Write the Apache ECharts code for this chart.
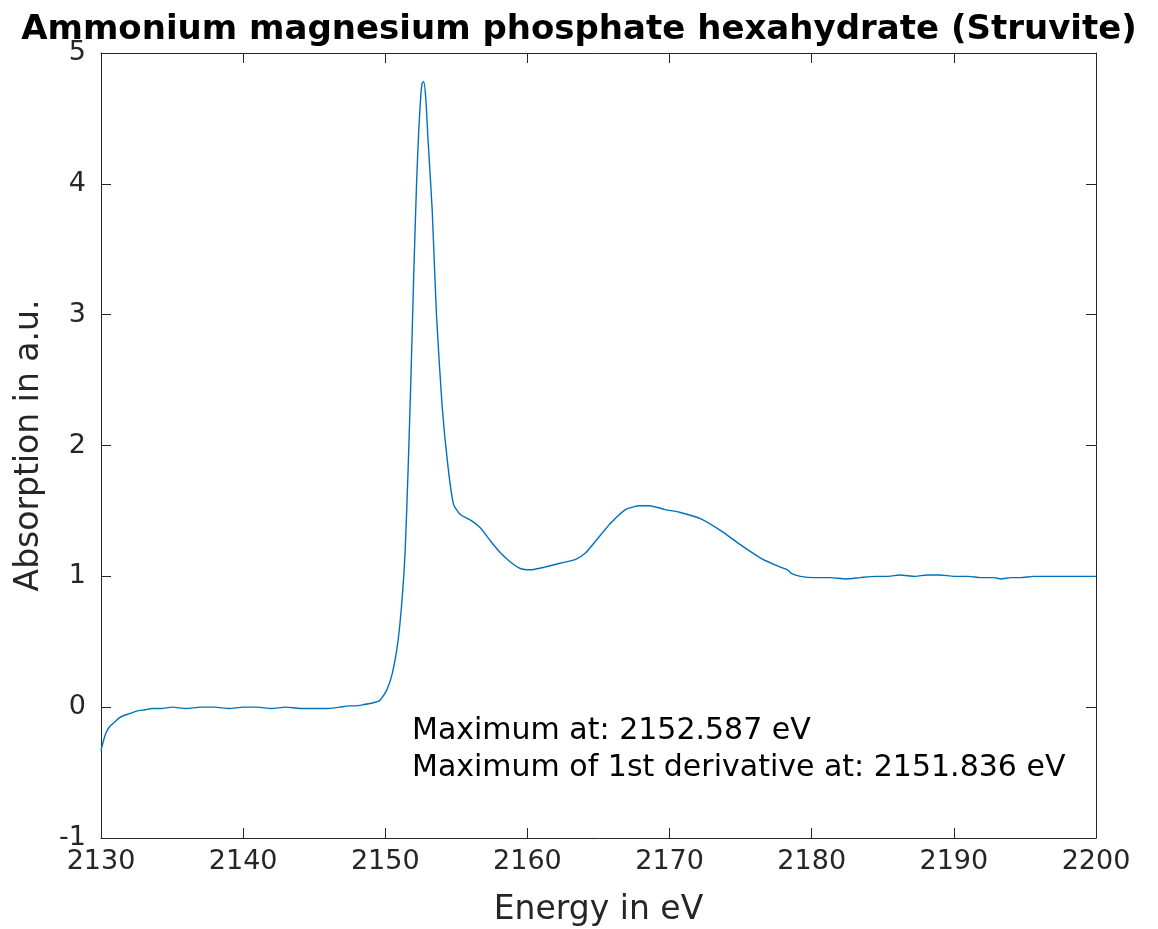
<!DOCTYPE html>
<html>
<head>
<meta charset="utf-8">
<script src="https://cdn.jsdelivr.net/npm/echarts@6/dist/echarts.min.js"></script>
<style>
  html, body { margin: 0; padding: 0; background: #fff; }
  #chart { width: 1158px; height: 929px; }
</style>
</head>
<body>
<div id="chart"></div>
<script>
// energies (eV)
const energy = [
  2130.0, 2130.3, 2130.6, 2131.0, 2131.3, 2131.7, 2132.0, 2132.5, 2133.1, 2133.6,
  2134.2, 2135.0, 2136.0, 2137.0, 2138.0, 2139.0, 2140.0, 2141.0, 2142.0, 2143.0,
  2144.0, 2145.0, 2146.0, 2146.8, 2147.4, 2147.9, 2148.5, 2149.0, 2149.6, 2150.1,
  2150.5, 2150.9, 2151.2, 2151.4, 2151.6, 2151.8, 2152.0, 2152.2, 2152.35, 2152.5,
  2152.6, 2152.7, 2152.85, 2153.0, 2153.3, 2153.6, 2154.0, 2154.4, 2154.8, 2155.3,
  2156.0, 2156.7, 2157.4, 2158.1, 2158.8, 2159.5, 2160.2, 2161.2, 2162.3, 2163.4,
  2164.1, 2164.8, 2165.8, 2166.9, 2167.9, 2168.6, 2169.7, 2170.7, 2172.2, 2173.6,
  2175.0, 2176.4, 2177.8, 2178.3, 2178.6, 2179.2, 2180.2, 2181.3, 2182.4, 2183.4,
  2184.5, 2185.4, 2186.2, 2187.3, 2188.1, 2189.0, 2190.0, 2191.0, 2191.9, 2192.8,
  2193.3, 2194.0, 2194.7, 2195.6, 2196.8, 2197.8, 2198.8, 2200.0
];
// absorption (a.u.)
const absorption = [
  -0.33, -0.21, -0.15, -0.11, -0.08, -0.06, -0.05, -0.03, -0.02, -0.01,
  -0.01, 0.00, -0.01, 0.00, 0.00, -0.01, 0.00, 0.00, -0.01, 0.00,
  -0.01, -0.01, -0.01, 0.00, 0.01, 0.01, 0.02, 0.03, 0.05, 0.13,
  0.26, 0.51, 0.85, 1.20, 1.80, 2.50, 3.30, 4.00, 4.40, 4.68,
  4.77, 4.78, 4.65, 4.35, 3.80, 3.00, 2.30, 1.85, 1.55, 1.47,
  1.43, 1.37, 1.27, 1.18, 1.11, 1.06, 1.05, 1.07, 1.10, 1.13,
  1.18, 1.27, 1.40, 1.51, 1.54, 1.54, 1.51, 1.49, 1.44, 1.35,
  1.24, 1.14, 1.07, 1.05, 1.02, 1.00, 0.99, 0.99, 0.98, 0.99,
  1.00, 1.00, 1.01, 1.00, 1.01, 1.01, 1.00, 1.00, 0.99, 0.99,
  0.98, 0.99, 0.99, 1.00, 1.00, 1.00, 1.00, 1.00
];
const xTicks = [2130, 2200, 10];
const yTicks = [-1, 5, 1];
const notes = ['Maximum at: 2152.587 eV', 'Maximum of 1st derivative at: 2151.836 eV'];

const textColor = '#262626';
const font = 'DejaVu Sans';
const chart = echarts.init(document.getElementById('chart'), null, { renderer: 'canvas' });

const tickCfg = { show: true, inside: true, length: 10, lineStyle: { color: '#262626', width: 1 } };
const lineCfg = { show: true, onZero: false, lineStyle: { color: '#262626', width: 1 } };
chart.setOption({
  animation: false,
  backgroundColor: '#fff',
  title: {
    text: 'Ammonium magnesium phosphate hexahydrate (Struvite)',
    left: 'center',
    top: 8,
    textStyle: { fontFamily: font, fontWeight: 'bold', fontSize: 34, color: '#000' }
  },
  grid: { left: 101, right: 62, top: 53, bottom: 91, outerBoundsMode: 'none', containLabel: false },
  xAxis: [
    {
      type: 'value', min: xTicks[0], max: xTicks[1], interval: xTicks[2],
      name: 'Energy in eV', nameLocation: 'middle', nameGap: 56,
      nameTextStyle: { fontFamily: font, fontSize: 33, color: textColor },
      axisLine: lineCfg,
      axisTick: tickCfg,
      axisLabel: { fontFamily: font, fontSize: 27, color: textColor, margin: 10, formatter: v => String(v) },
      splitLine: { show: false }
    },
    {
      type: 'value', position: 'top', min: xTicks[0], max: xTicks[1], interval: xTicks[2],
      axisLine: lineCfg,
      axisTick: tickCfg, axisLabel: { show: false }, splitLine: { show: false }
    }
  ],
  yAxis: [
    {
      type: 'value', min: yTicks[0], max: yTicks[1], interval: yTicks[2],
      name: 'Absorption in a.u.', nameLocation: 'middle', nameGap: 55,
      nameTextStyle: { fontFamily: font, fontSize: 33, color: textColor },
      axisLine: lineCfg,
      axisTick: tickCfg,
      axisLabel: { fontFamily: font, fontSize: 27, color: textColor, margin: 15 },
      splitLine: { show: false }
    },
    {
      type: 'value', position: 'right', min: yTicks[0], max: yTicks[1], interval: yTicks[2],
      axisLine: lineCfg,
      axisTick: tickCfg, axisLabel: { show: false }, splitLine: { show: false }
    }
  ],
  graphic: [
    {
      type: 'text', left: 412, top: 716,
      style: { text: notes[0], fontFamily: font, fontSize: 30, fill: '#000' }
    },
    {
      type: 'text', left: 412, top: 753,
      style: { text: notes[1], fontFamily: font, fontSize: 30, fill: '#000' }
    }
  ],
  series: [
    {
      type: 'line',
      data: energy.map((e, i) => [e, absorption[i]]),
      showSymbol: false,
      smooth: 0.2,
      lineStyle: { color: '#0072BD', width: 1.4 },
      clip: true
    }
  ]
});
</script>
</body>
</html>
